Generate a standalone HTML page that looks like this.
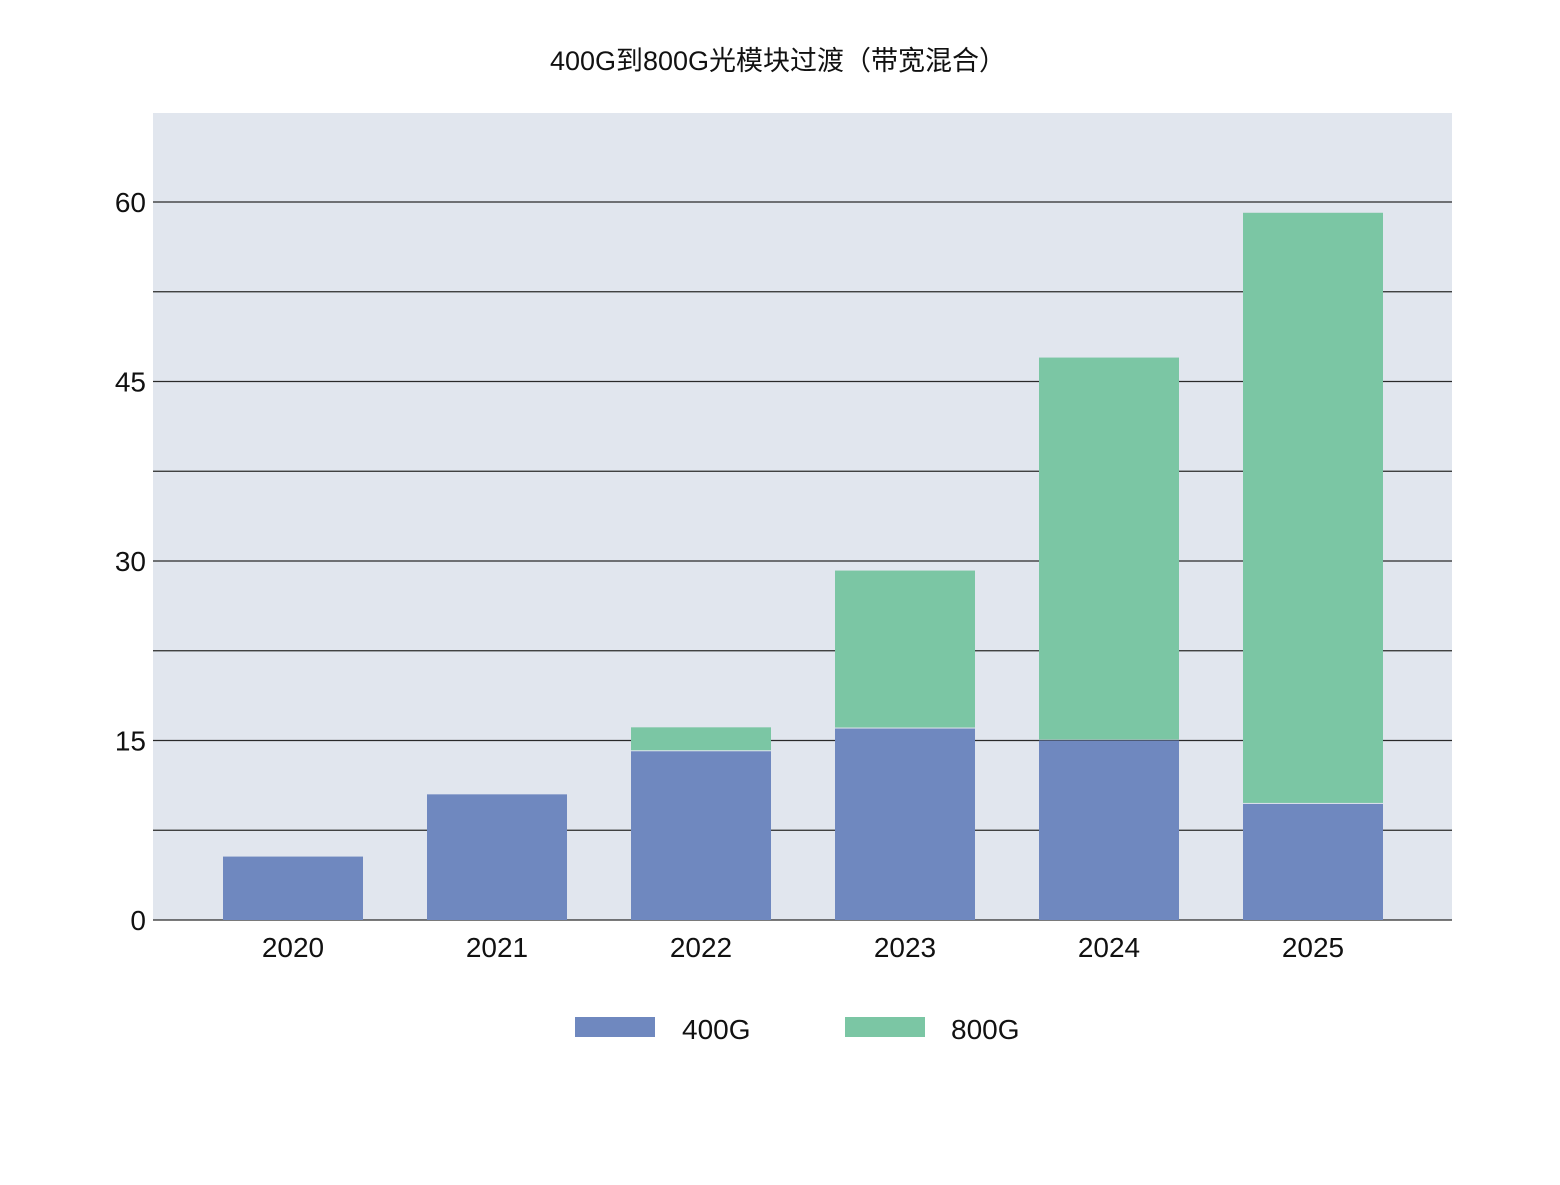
<!DOCTYPE html>
<html><head><meta charset="utf-8">
<style>
body{margin:0;background:#fff;width:1560px;height:1180px;overflow:hidden;font-family:"Liberation Sans","Noto Sans CJK SC",sans-serif;}
</style></head>
<body>
<svg id="chart" width="1560" height="1180" xmlns="http://www.w3.org/2000/svg" font-family="Liberation Sans, Noto Sans CJK SC, sans-serif">
<text x="778" y="70" text-anchor="middle" font-size="27" fill="#111">400G到800G光模块过渡（带宽混合）</text>
<rect x="153" y="113" width="1299" height="807" fill="#e1e6ee"/>
<g id="grid"></g>
<g id="bars"></g>
<g id="labels"></g>
<g>
<rect x="575" y="1017" width="80" height="20" fill="#6f88bf"/>
<text x="682" y="1039" font-size="28" fill="#111">400G</text>
<rect x="845" y="1017" width="80" height="20" fill="#7bc6a4"/>
<text x="951" y="1039" font-size="28" fill="#111">800G</text>
</g>
</svg>
<script>
const categories = ["2020","2021","2022","2023","2024","2025"];
const series400 = [5.3, 10.5, 14.1, 16.0, 15.0, 9.7];
const series800 = [0, 0, 2.0, 13.2, 32.0, 49.4];
const gridValues = [0, 7.5, 15, 22.5, 30, 37.5, 45, 52.5, 60];
const tickLabels = [0, 15, 30, 45, 60];

const NS = "http://www.w3.org/2000/svg";
const y0 = 920, yTop = 202, vMax = 60;
function y(v){ return y0 - (y0 - yTop) * v / vMax; }
function xc(i){ return 293 + i * 204; }
const bw = 140;
function mk(tag, attrs, parent){ const e = document.createElementNS(NS, tag); for (const k in attrs) e.setAttribute(k, attrs[k]); parent.appendChild(e); return e; }

const grid = document.getElementById('grid');
gridValues.forEach(v => {
  const l = mk('line', {x1:153, x2:1452, y1:y(v), y2:y(v), stroke:'#2a2a2a', 'stroke-width':1.3}, grid);
  
  
});
const labels = document.getElementById('labels');
tickLabels.forEach(v => {
  const t = mk('text', {x:146, y:y(v)+10, 'text-anchor':'end', 'font-size':28, fill:'#111'}, labels);
  t.textContent = v;
  
  
});
const bars = document.getElementById('bars');
categories.forEach((c, i) => {
  const a = series400[i], b = series800[i];
  const r1 = mk('rect', {x:xc(i)-bw/2, y:y(a), width:bw, height:y(0)-y(a), fill:'#6f88bf'}, bars);
  
  
  if (b > 0) {
    const r2 = mk('rect', {x:xc(i)-bw/2, y:y(a+b), width:bw, height:y(a)-y(a+b)-1, fill:'#7bc6a4'}, bars);
    
    
  }
  const t = mk('text', {x:xc(i), y:957, 'text-anchor':'middle', 'font-size':28, fill:'#111'}, labels);
  t.textContent = c;
  
  
});
</script>
</body></html>
